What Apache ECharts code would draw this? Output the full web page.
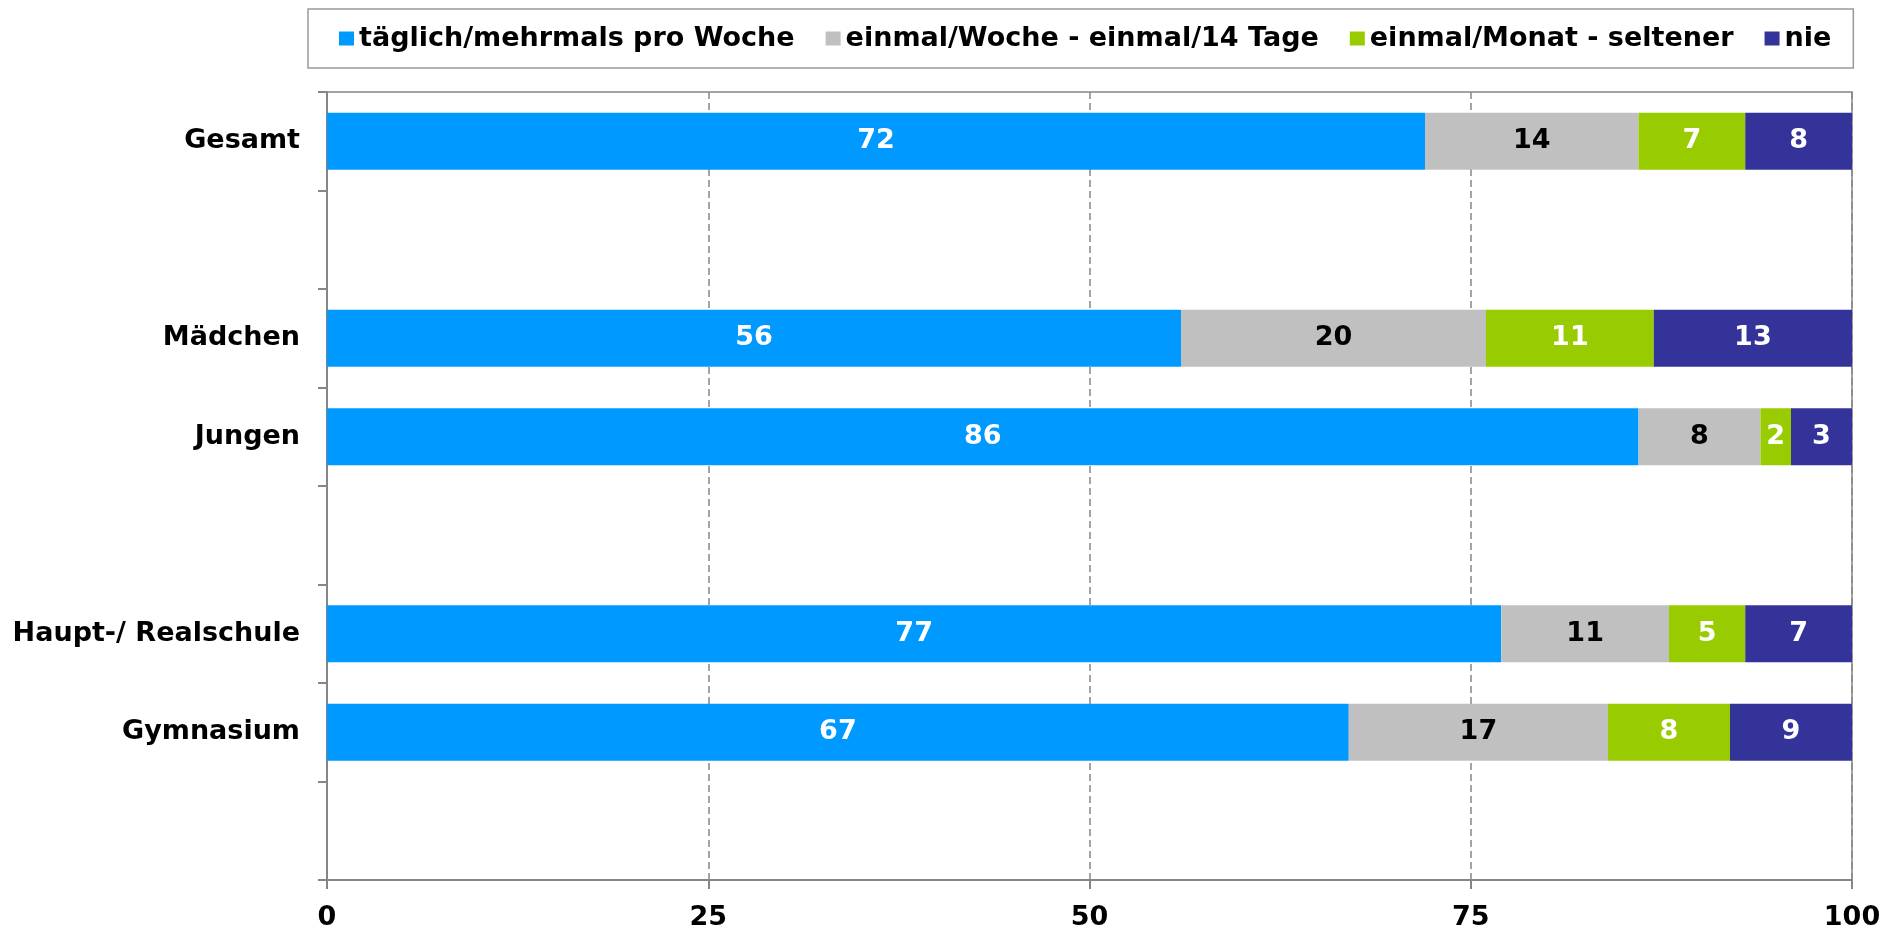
<!DOCTYPE html>
<html>
<head>
<meta charset="utf-8">
<title>Häufigkeit</title>
<script src="https://cdn.jsdelivr.net/npm/echarts@6/dist/echarts.min.js"></script>
<style>
  html, body { margin: 0; padding: 0; background: #ffffff; }
  #chart { width: 1894px; height: 931px; }
</style>
</head>
<body>
<div id="chart"></div>
<script>
// Kategorien (leere Einträge = Abstandszeilen)
var categories = ["Gesamt", "", "Mädchen", "Jungen", "", "Haupt-/ Realschule", "Gymnasium", ""];

// Werte je Antwort
var taeglich = [72, null, 56, 86, null, 77, 67, null];
var einmalWoche = [14, null, 20, 8, null, 11, 17, null];
var einmalMonat = [7, null, 11, 2, null, 5, 8, null];
// "nie": Balkenlänge wie im Bild, Beschriftung wie gedruckt
var nieBar = [7.2, null, 13, 4.2, null, 7, 8.2, null];
var nieLabel = [8, null, 13, 3, null, 7, 9, null];

var seriesNames = ["täglich/mehrmals pro Woche", "einmal/Woche - einmal/14 Tage", "einmal/Monat - seltener", "nie"];
var xTicks = [0, 25, 50, 75, 100];

var font = "DejaVu Sans";
var fontSize = 27;
var axisGrey = "#868686";

function barLabel(color, texts) {
  return {
    show: true,
    position: "inside",
    color: color,
    fontFamily: font,
    fontWeight: "bold",
    fontSize: fontSize,
    formatter: function (p) {
      return texts ? texts[p.dataIndex] : p.value;
    }
  };
}

var myChart = echarts.init(document.getElementById("chart"));

var option = {
  backgroundColor: "#ffffff",
  animation: false,
  legend: {
    data: seriesNames,
    left: 308,
    top: 9,
    padding: [16, 22, 16, 31],
    borderColor: "#9a9a9a",
    borderWidth: 1.5,
    itemWidth: 15,
    itemHeight: 14,
    itemGap: 31,
    icon: "rect",
    textStyle: {
      color: "#000000",
      fontFamily: font,
      fontWeight: "bold",
      fontSize: fontSize
    }
  },
  grid: {
    left: 327,
    right: 42,
    top: 92,
    bottom: 47,
    show: true,
    borderColor: axisGrey,
    borderWidth: 1.5
  },
  xAxis: {
    type: "value",
    min: xTicks[0],
    max: xTicks[xTicks.length - 1],
    interval: 25,
    axisLine: { show: true, lineStyle: { color: axisGrey, width: 2 } },
    axisTick: { show: true, length: 9, lineStyle: { color: axisGrey, width: 2 } },
    axisLabel: {
      margin: 24,
      color: "#000000",
      fontFamily: font,
      fontWeight: "bold",
      fontSize: fontSize
    },
    splitLine: {
      show: true,
      lineStyle: { color: axisGrey, width: 1.5, type: [7, 4] }
    }
  },
  yAxis: {
    type: "category",
    inverse: true,
    data: categories,
    axisLine: { show: true, lineStyle: { color: axisGrey, width: 2 } },
    axisTick: { show: true, interval: 0, length: 9, lineStyle: { color: axisGrey, width: 2 } },
    axisLabel: {
      interval: 0,
      margin: 27,
      color: "#000000",
      fontFamily: font,
      fontWeight: "bold",
      fontSize: fontSize
    },
    splitLine: { show: false }
  },
  series: [
    {
      name: seriesNames[0],
      type: "bar",
      stack: "gesamt",
      barWidth: "58%",
      data: taeglich,
      itemStyle: { color: "#0099ff" },
      label: barLabel("#ffffff")
    },
    {
      name: seriesNames[1],
      type: "bar",
      stack: "gesamt",
      barWidth: "58%",
      data: einmalWoche,
      itemStyle: { color: "#c0c0c0" },
      label: barLabel("#000000")
    },
    {
      name: seriesNames[2],
      type: "bar",
      stack: "gesamt",
      barWidth: "58%",
      data: einmalMonat,
      itemStyle: { color: "#99cc00" },
      label: barLabel("#ffffff")
    },
    {
      name: seriesNames[3],
      type: "bar",
      stack: "gesamt",
      barWidth: "58%",
      data: nieBar,
      itemStyle: { color: "#333399" },
      label: barLabel("#ffffff", nieLabel)
    }
  ]
};

myChart.setOption(option);
</script>
</body>
</html>
